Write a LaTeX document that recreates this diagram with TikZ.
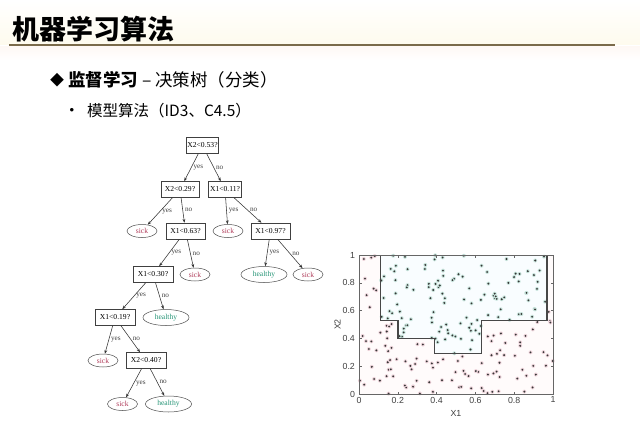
\documentclass[tikz,border=0pt]{standalone}
\usepackage{fontspec}
\setmainfont{Liberation Serif}
\newfontfamily\cjk{Noto Sans CJK SC}
\newfontfamily\plotsans{Liberation Sans}
\usetikzlibrary{shapes.geometric,arrows.meta}
\definecolor{rulebrown}{RGB}{122,106,74}
\definecolor{sickc}{RGB}{176,60,90}
\definecolor{healthyc}{RGB}{40,150,120}
\definecolor{dotc}{RGB}{55,55,55}
\tikzset{
  qbox/.style={draw=black!75, line width=0.5pt, font=\fontsize{7.6}{8.5}\selectfont, minimum height=16pt, inner sep=1pt},
  sickleaf/.style={ellipse, draw=black!70, line width=0.5pt, font=\fontsize{7.6}{8.5}\selectfont, text=sickc, minimum width=30pt, minimum height=13pt, inner sep=0pt},
  healthyleaf/.style={ellipse, draw=black!70, line width=0.5pt, font=\fontsize{7.6}{8.5}\selectfont, text=healthyc, minimum width=46pt, minimum height=16pt, inner sep=0pt},
  edge/.style={draw=black!80, line width=0.55pt, -{Stealth[length=3.8pt,width=2.8pt]}},
  elab/.style={font=\fontsize{7.2}{8}\selectfont, text=black!75, anchor=west, inner sep=2pt},
  ticklab/.style={font=\plotsans\fontsize{8.8}{10}\selectfont, text=black!75, inner sep=1pt},
}
\begin{document}
\begin{tikzpicture}[x=1pt,y=-1pt]
\useasboundingbox (0,0) rectangle (640,440);
\fill[white] (0,0) rectangle (640,440);
\shade[top color=white, bottom color={rgb,255:red,254;green,251;blue,238}] (0,0) rectangle (640,44);
\shade[top color={rgb,255:red,254;green,248;blue,244}, bottom color=white] (0,46) rectangle (640,60);
% header
\node[font=\cjk\bfseries\fontsize{27}{30}\selectfont, anchor=west, inner sep=0pt] (title) at (12,29) {机器学习算法};
\draw[rulebrown, line width=2.2pt] (9,45) -- (615,45);
\node[font=\cjk\fontsize{14}{16}\selectfont, inner sep=0pt] (dia) at (57,80) {◆};
\node[font=\cjk\fontsize{17.5}{20}\selectfont, anchor=west, inner sep=0pt] (h1) at (68,80) {\textbf{监督学习} – 决策树（分类）};
\node[font=\plotsans\fontsize{13}{14}\selectfont, inner sep=0pt] (dot) at (72,111) {•};
\node[font=\cjk\fontsize{15.5}{18}\selectfont, anchor=west, inner sep=0pt] (h2) at (87,111) {模型算法（ID3、C4.5）};
% tree
\node[qbox, minimum width=31pt] (r) at (202.5,145.5) {X2<0.53?};
\node[qbox, minimum width=38pt] (a) at (180,189.5) {X2<0.29?};
\node[qbox, minimum width=33pt] (b) at (225,189.5) {X1<0.11?};
\node[sickleaf] (a1) at (142,231) {sick};
\node[qbox, minimum width=39pt] (a2) at (185.5,231) {X1<0.63?};
\node[sickleaf] (b1) at (228,231) {sick};
\node[qbox, minimum width=39pt] (b2) at (270.5,231) {X1<0.97?};
\node[qbox, minimum width=40pt] (c1) at (153,274.5) {X1<0.30?};
\node[sickleaf] (c2) at (195,274.5) {sick};
\node[healthyleaf] (d1) at (264,274.5) {healthy};
\node[sickleaf] (d2) at (308,274.5) {sick};
\node[qbox, minimum width=40pt] (e1) at (115,317.5) {X1<0.19?};
\node[healthyleaf] (e2) at (166,317.5) {healthy};
\node[sickleaf] (f1) at (103,360.5) {sick};
\node[qbox, minimum width=40pt] (f2) at (146,360.5) {X2<0.40?};
\node[sickleaf] (g1) at (122.5,404) {sick};
\node[healthyleaf] (g2) at (168.5,404) {healthy};
\draw[edge] (r) -- (a) node[elab, midway] {yes};
\draw[edge] (r) -- (b) node[elab, midway] {no};
\draw[edge] (a) -- (a1) node[elab, midway] {yes};
\draw[edge] (a) -- (a2) node[elab, midway] {no};
\draw[edge] (b) -- (b1) node[elab, midway] {yes};
\draw[edge] (b) -- (b2) node[elab, midway] {no};
\draw[edge] (a2) -- (c1) node[elab, midway] {yes};
\draw[edge] (a2) -- (c2) node[elab, midway] {no};
\draw[edge] (b2) -- (d1) node[elab, midway] {yes};
\draw[edge] (b2) -- (d2) node[elab, midway] {no};
\draw[edge] (c1) -- (e1) node[elab, midway] {yes};
\draw[edge] (c1) -- (e2) node[elab, midway] {no};
\draw[edge] (e1) -- (f1) node[elab, midway] {yes};
\draw[edge] (e1) -- (f2) node[elab, midway] {no};
\draw[edge] (f2) -- (g1) node[elab, midway] {yes};
\draw[edge] (f2) -- (g2) node[elab, midway] {no};
% plot
\begin{scope}[shift={(359,394)}, x=194pt, y=139pt]
  \fill[red!1.5] (0,0) rectangle (1,1);
  \fill[cyan!2.5] (0.11,1) -- (0.11,0.53) -- (0.2,0.53) -- (0.2,0.40) -- (0.39,0.40) -- (0.39,0.29) -- (0.63,0.29) -- (0.63,0.53) -- (0.97,0.53) -- (0.97,1) -- cycle;
  \pgfmathsetseed{2024}
  \foreach \i in {1,...,230}{
    \pgfmathsetmacro{\px}{rnd}
    \pgfmathsetmacro{\py}{rnd}
    \pgfmathtruncatemacro{\hh}{(((\py>=0.53)&&(\px>=0.11)&&(\px<0.97)) || ((\py>=0.29)&&(\py<0.53)&&(\px>=0.39)&&(\px<0.63)) || ((\py>=0.40)&&(\py<0.53)&&(\px>=0.2)&&(\px<0.39))) ? 1 : 0}
    \ifnum\hh=1
      \fill[healthyc!25] (\px,\py) circle[radius=2pt];
    \else
      \fill[sickc!22] (\px,\py) circle[radius=2pt];
    \fi
    \fill[dotc] (\px,\py) circle[radius=1.05pt];
  }
  \draw[black!72, line width=1.4pt] (0.11,1) -- (0.11,0.53) -- (0.2,0.53) -- (0.2,0.40) -- (0.39,0.40) -- (0.39,0.29) -- (0.63,0.29) -- (0.63,0.53) -- (0.97,0.53) -- (0.97,1);
  \draw[black!60, line width=0.6pt] (0,0) rectangle (1,1);
  \foreach \t/\l in {0/0,0.2/0.2,0.4/0.4,0.6/0.6,0.8/0.8,1/1}{
    \draw[black!60, line width=0.5pt] (\t,0) -- ++(0,2.5pt);
    \draw[black!60, line width=0.5pt] (\t,1) -- ++(0,-2.5pt);
    \draw[black!60, line width=0.5pt] (0,\t) -- ++(2.5pt,0);
    \draw[black!60, line width=0.5pt] (1,\t) -- ++(-2.5pt,0);
    \node[ticklab, anchor=north] (xt\l) at (\t,-0.012) {\l};
    \node[ticklab, anchor=east] (yt\l) at (-0.015,\t) {\l};
  }
  \node[ticklab] (xlab) at (0.5,-0.14) {X1};
  \node[ticklab, rotate=90] (ylab) at (-0.11,0.5) {X2};
\end{scope}
\end{tikzpicture}
\end{document}
